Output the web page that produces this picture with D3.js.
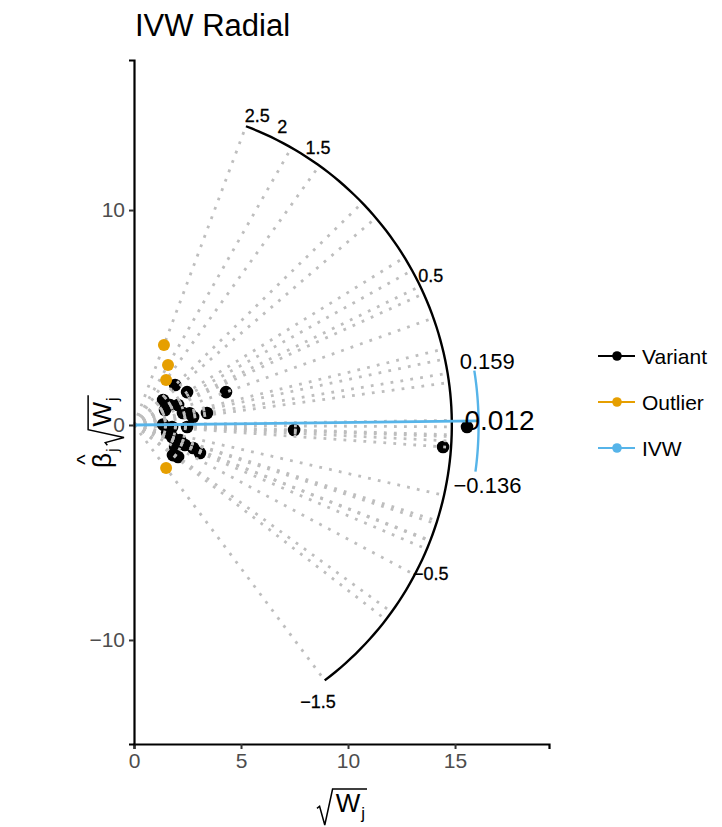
<!DOCTYPE html>
<html>
<head>
<meta charset="utf-8">
<script src="https://cdn.jsdelivr.net/npm/d3@7"></script>
<style>
  body { margin: 0; background: #fff; }
  text { font-family: "Liberation Sans", Arial, Helvetica, sans-serif; }
</style>
</head>
<body>
<div id="chart"></div>
<script>
// sqrt(W_j) and beta_j * sqrt(W_j) for each variant
var variantX = [1.92, 2.48, 1.36, 1.68, 2.06, 1.45, 2.29, 2.76, 3.41, 4.30, 1.36, 1.78, 2.48,
                1.78, 2.15, 1.92, 2.38, 2.76, 3.08, 2.06, 1.82, 7.48, 14.44, 15.56, 2.60, 1.55];
var variantY = [1.86, 1.53, 1.16, 0.93, 0.93, 0.70, 0.56, 0.37, 0.56, 1.53, 0.02, -0.09, -0.09,
                -0.56, -0.70, -1.02, -0.93, -1.07, -1.30, -1.49, -1.40, -0.23, -1.02, -0.09, 0.55, -0.35];
var outlierX = [1.40, 1.59, 1.50, 1.50];
var outlierY = [3.72, 2.79, 2.09, -2.00];

var ivwEstimate = 0.012, ivwLower = -0.136, ivwUpper = 0.159;
var scaleLabels = [2.5, 2, 1.5, 0.5, -0.5, -1.5];
var xTicks = [0, 5, 10, 15];
var yTicks = [-10, 0, 10];
var legendLabels = ["Variant", "Outlier", "IVW"];
var legendColors = ["#000000", "#E69F00", "#56B4E9"];

var width = 722, height = 827;
var scaleRadius = 14.85, ivwRadius = 16.1, labelRadius = 15.5;

var svg = d3.select("#chart").append("svg")
    .attr("width", width)
    .attr("height", height);

var x = d3.scaleLinear().domain([0, 19.39]).range([134, 549]);
var y = d3.scaleLinear().domain([-14.84, 16.98]).range([744, 60]);

function polar(r, a) { return [x(r * Math.cos(a)), y(r * Math.sin(a))]; }

var allX = variantX.concat(outlierX), allY = variantY.concat(outlierY);
var angles = allX.map(function(d, i) { return Math.atan(allY[i] / d); });
var aMin = d3.min(angles), aMax = d3.max(angles);

// title
svg.append("text").attr("x", 135).attr("y", 36)
    .style("font-size", "31px").text("IVW Radial");

// black scale arc
var arcLine = d3.line();
svg.append("path")
    .attr("d", arcLine(d3.range(0, 101).map(function(i) {
        return polar(scaleRadius, aMin + (aMax - aMin) * i / 100); })))
    .attr("fill", "none").attr("stroke", "#000").attr("stroke-width", 2.4);

// arc labels
svg.selectAll(".slab").data(scaleLabels).enter().append("text")
    .attr("class", "slab")
    .attr("x", function(d) { return polar(labelRadius, Math.atan(d))[0]; })
    .attr("y", function(d) { return polar(labelRadius, Math.atan(d))[1]; })
    .attr("text-anchor", "middle").attr("dominant-baseline", "central")
    .style("font-size", "18px").style("stroke", "#000").style("stroke-width", 0.3)
    .text(function(d) { return d < 0 ? "\u2212" + Math.abs(d) : d; });

// variant points
svg.append("g").selectAll("circle").data(variantX).enter().append("circle")
    .attr("cx", function(d) { return x(d); })
    .attr("cy", function(d, i) { return y(variantY[i]); })
    .attr("r", 6.3).attr("fill", "#000");

// dotted lines from origin through every point
svg.append("g").selectAll("line").data(angles).enter().append("line")
    .attr("x1", x(0)).attr("y1", y(0))
    .attr("x2", function(a) { return polar(scaleRadius, a)[0]; })
    .attr("y2", function(a) { return polar(scaleRadius, a)[1]; })
    .attr("stroke", "#bebebe").attr("stroke-width", 2.8)
    .attr("stroke-dasharray", "2.8 7.2");

// outliers
svg.append("g").selectAll("circle").data(outlierX).enter().append("circle")
    .attr("cx", function(d) { return x(d); })
    .attr("cy", function(d, i) { return y(outlierY[i]); })
    .attr("r", 6.0).attr("fill", "#E69F00");

// IVW line and its interval arc
var aIvw = Math.atan(ivwEstimate), aLo = Math.atan(ivwLower), aHi = Math.atan(ivwUpper);
var pEnd = polar(ivwRadius, aIvw);
svg.append("line")
    .attr("x1", x(0)).attr("y1", y(0)).attr("x2", pEnd[0]).attr("y2", pEnd[1])
    .attr("stroke", "#56B4E9").attr("stroke-width", 2.8);
svg.append("path")
    .attr("d", arcLine(d3.range(0, 41).map(function(i) {
        return polar(ivwRadius, aLo + (aHi - aLo) * i / 40); })))
    .attr("fill", "none").attr("stroke", "#56B4E9").attr("stroke-width", 2.4);

var pHi = polar(ivwRadius, aHi), pLo = polar(ivwRadius, aLo);
svg.append("text").attr("x", pHi[0] + 13).attr("y", pHi[1] - 9)
    .attr("text-anchor", "middle").attr("dominant-baseline", "central")
    .style("font-size", "22px").text(ivwUpper.toFixed(3));
svg.append("text").attr("x", pEnd[0] + 21).attr("y", pEnd[1])
    .attr("text-anchor", "middle").attr("dominant-baseline", "central")
    .style("font-size", "28px").text(ivwEstimate.toFixed(3));
svg.append("text").attr("x", pLo[0] + 12).attr("y", pLo[1] + 14)
    .attr("text-anchor", "middle").attr("dominant-baseline", "central")
    .style("font-size", "22px").text("\u2212" + Math.abs(ivwLower).toFixed(3));

// axes
var xAxis = svg.append("g").attr("transform", "translate(0," + y.range()[0] + ")")
    .call(d3.axisBottom(x).tickValues(xTicks).tickSize(5).tickPadding(4).tickFormat(d3.format("d")));
var yAxis = svg.append("g").attr("transform", "translate(" + x.range()[0] + ",0)")
    .call(d3.axisLeft(y).tickValues(yTicks).tickSize(5).tickPadding(4)
        .tickFormat(function(d) { return d < 0 ? "\u2212" + Math.abs(d) : d; }));
[xAxis, yAxis].forEach(function(a) {
    a.select(".domain").attr("stroke", "#000").attr("stroke-width", 2.2);
    a.selectAll(".tick line").attr("stroke", "#333").attr("stroke-width", 2);
    a.selectAll(".tick text").attr("fill", "#4d4d4d").style("font-size", "21px")
        .style("font-family", "Liberation Sans, Arial, sans-serif");
});

// sqrt(W_j) label piece, drawn from local x0 on baseline 0
function sqrtW(g, x0, s) {
    var wx = x0 + 0.72 * s;
    var w = g.append("text").attr("x", wx).attr("y", 0).style("font-size", s + "px").text("W");
    var ww = w.node().getComputedTextLength();
    var j = g.append("text").attr("x", wx + ww + 1).attr("y", 0.28 * s)
        .style("font-size", (0.65 * s) + "px").text("j");
    var jw = j.node().getComputedTextLength();
    var end = wx + ww + jw + 3;
    g.append("path")
        .attr("d", "M" + (x0) + "," + (-0.14 * s) + " L" + (x0 + 0.1 * s) + "," + (-0.22 * s) +
            " L" + (x0 + 0.3 * s) + "," + (0.5 * s) + " L" + (x0 + 0.6 * s) + "," + (-0.88 * s) +
            " L" + end + "," + (-0.88 * s))
        .attr("fill", "none").attr("stroke", "#000").attr("stroke-width", 1.5);
    return end;
}

// x title
var xt = svg.append("g");
var xEnd = sqrtW(xt, 0, 26);
xt.attr("transform", "translate(" + (342 - xEnd / 2) + ",812)");

// y title
var yt = svg.append("g").attr("transform", "translate(111,468) rotate(-90)");
var beta = yt.append("text").attr("x", 0).attr("y", 0).style("font-size", "26px").text("\u03b2");
var bw = beta.node().getComputedTextLength();
yt.append("text").attr("x", bw / 2 + 1).attr("y", -19).attr("text-anchor", "middle")
    .style("font-size", "22px").text("^");
var bj = yt.append("text").attr("x", bw + 1).attr("y", 7).style("font-size", "17px").text("j");
sqrtW(yt, bw + bj.node().getComputedTextLength() + 4, 26);

// legend
var legend = svg.append("g").selectAll("g").data(legendLabels).enter().append("g")
    .attr("transform", function(d, i) { return "translate(0," + (356 + i * 46) + ")"; });
legend.append("line").attr("x1", 598).attr("x2", 635).attr("y1", 0).attr("y2", 0)
    .attr("stroke", function(d, i) { return legendColors[i]; }).attr("stroke-width", 2.2);
legend.append("circle").attr("cx", 617).attr("cy", 0).attr("r", 4.8)
    .attr("fill", function(d, i) { return legendColors[i]; });
legend.append("text").attr("x", 642).attr("y", 0).attr("dominant-baseline", "central")
    .style("font-size", "21px").text(function(d) { return d; });
</script>
</body>
</html>
